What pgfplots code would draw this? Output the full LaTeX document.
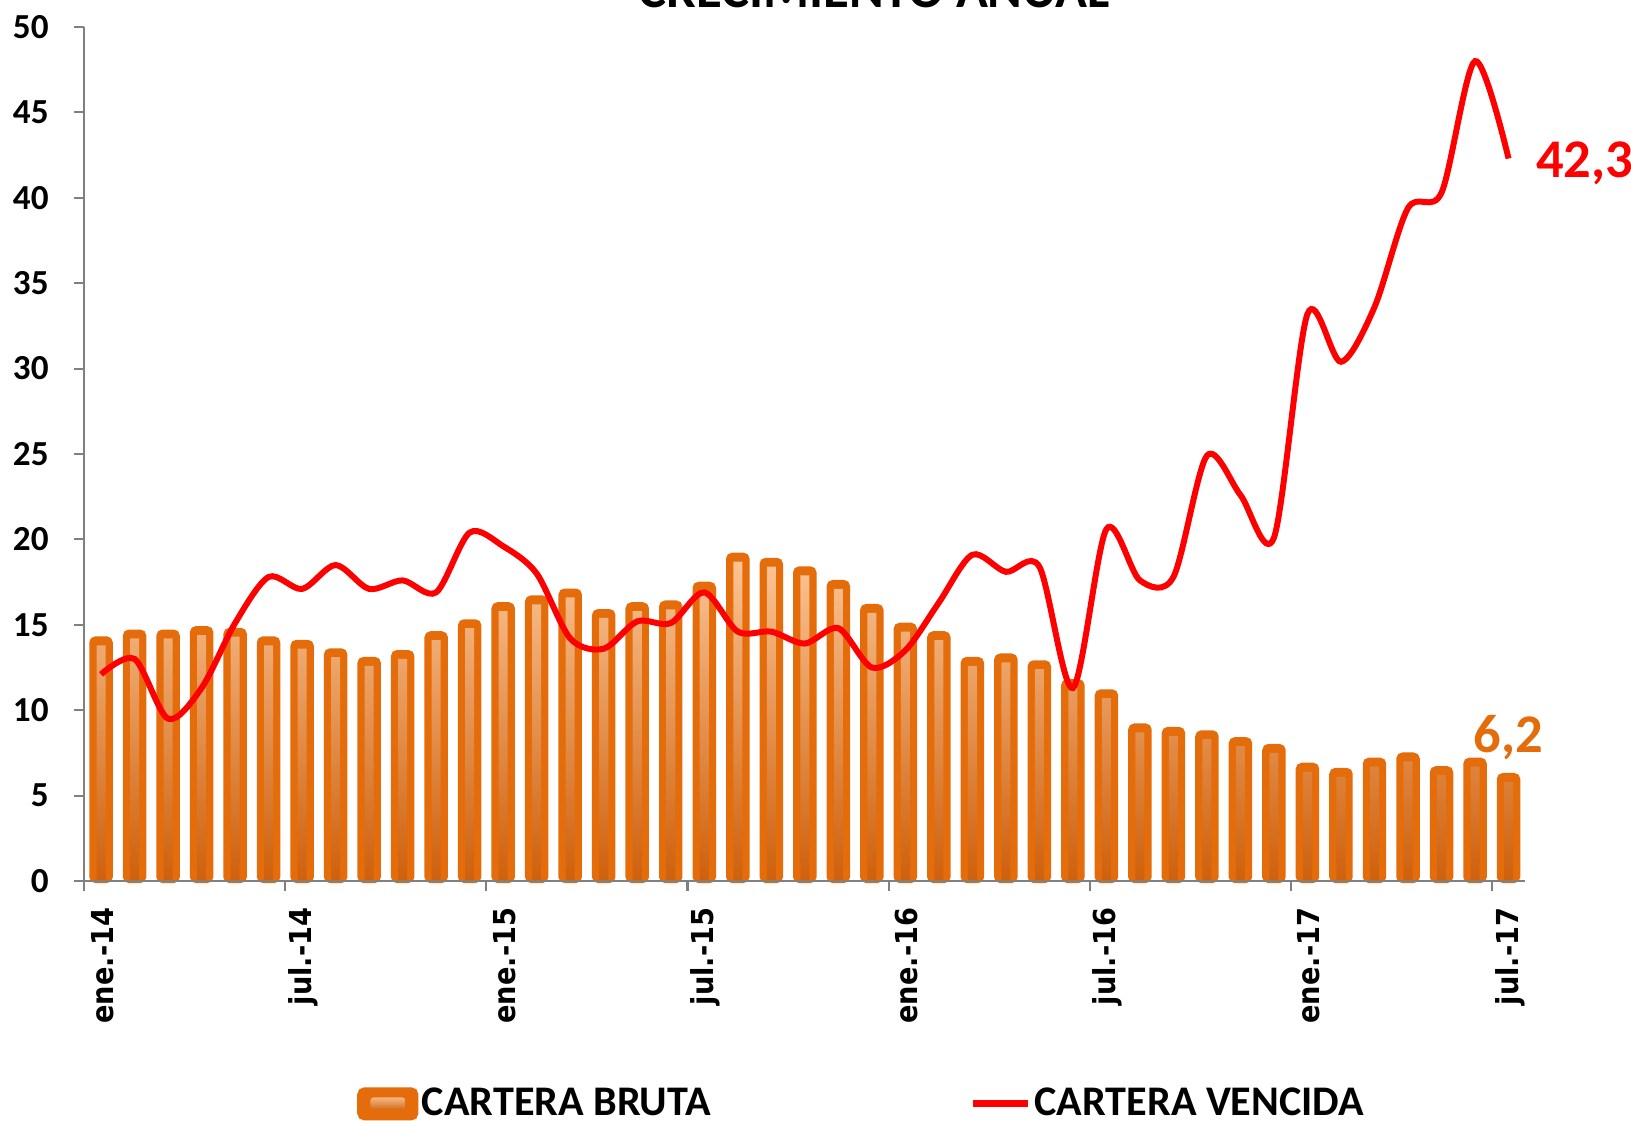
\documentclass[border=0pt]{standalone}
\usepackage{fontspec}
\usepackage{pgfplots}
\usepackage{pgfplotstable}
\pgfplotsset{compat=1.18}
\setmainfont{Carlito}
\newfontfamily\xlabfont[FakeStretch=0.9]{DejaVu Sans}
\definecolor{barorange}{RGB}{228,108,10}
\definecolor{stripetop}{RGB}{251,196,148}
\definecolor{stripebot}{RGB}{206,96,12}
\definecolor{axisgray}{RGB}{128,128,128}

% i = month index (0 = ene-14), b = cartera bruta, v = cartera vencida
\pgfplotstableread{
i  b     v
0  14.2  12.1
1  14.6  13.0
2  14.6  9.5
3  14.8  11.3
4  14.7  15.1
5  14.2  17.8
6  14.0  17.1
7  13.5  18.5
8  13.0  17.1
9  13.4  17.6
10 14.5  16.9
11 15.2  20.4
12 16.2  19.6
13 16.6  18.0
14 17.0  14.2
15 15.8  13.6
16 16.2  15.2
17 16.3  15.1
18 17.4  16.9
19 19.1  14.6
20 18.8  14.6
21 18.3  13.9
22 17.5  14.8
23 16.1  12.5
24 15.0  13.5
25 14.5  16.3
26 13.0  19.1
27 13.2  18.1
28 12.8  18.4
29 11.7  11.3
30 11.1  20.6
31 9.1   17.6
32 8.9   17.8
33 8.7   24.9
34 8.3   22.6
35 7.9   20.1
36 6.8   33.2
37 6.5   30.4
38 7.1   33.6
39 7.4   39.4
40 6.6   40.3
41 7.1   48.0
42 6.2   42.3
}\datatable

\begin{document}
\begin{tikzpicture}
\begin{axis}[
  at={(0,0)}, anchor=south west,
  width=14.41cm, height=8.54cm, scale only axis,
  xmin=-0.5, xmax=42.5, ymin=0, ymax=50,
  axis lines=left,
  axis line style={-, draw=axisgray, line width=0.6pt},
  axis on top,
  clip=false,
  ytick={0,5,...,50},
  xtick={-0.5,5.5,11.5,17.5,23.5,29.5,35.5,41.5},
  xticklabels={ene.-14,jul.-14,ene.-15,jul.-15,ene.-16,jul.-16,ene.-17,jul.-17},
  tick align=outside,
  major tick length=0.1cm,
  tick style={draw=axisgray, line width=0.6pt},
  /pgf/number format/assume math mode=true,
  yticklabel style={font=\fontsize{10}{12}\selectfont\bfseries, inner sep=0pt, anchor=east, xshift=-0.25cm},
  xticklabel style={font=\xlabfont\bfseries\fontsize{8.6}{10}\selectfont, inner sep=0pt,
    xshift=0.18cm, yshift=-0.16cm, rotate=90, anchor=east},
  legend columns=2,
  legend style={at={(0.54,-0.261)}, anchor=center, draw=none, fill=none, inner sep=0pt,
    font=\fontsize{12}{14}\selectfont\bfseries,
    nodes={inner sep=1pt},
    /tikz/every even column/.append style={column sep=2.55cm}},
]
\addplot[ybar, bar width=0.575, bar shift=0pt, fill=barorange, draw=barorange, line width=1.2pt,
  rounded corners=1.2pt,
  legend image code/.code={
    \fill[barorange, rounded corners=1.5pt] (0cm,-0.145cm) rectangle (0.57cm,0.145cm);
    \fill[top color=stripetop, bottom color=stripebot] (0.09cm,-0.075cm) rectangle (0.48cm,0.085cm);
  }] table[x=i, y=b] {\datatable};
\addlegendentry{CARTERA BRUTA}
\addplot[ybar, bar width=0.27, bar shift=0pt, draw=none, top color=stripetop, bottom color=stripebot,
  forget plot] table[x=i, y expr=\thisrow{b}-0.4] {\datatable};
\addplot[red, line width=1.7pt, smooth, tension=0.5, no markers,
  legend image code/.code={\draw[red, line width=2pt] (0cm,0cm) -- (0.55cm,0cm);}]
  table[x=i, y=v] {\datatable};
\addlegendentry{CARTERA VENCIDA}
\node[anchor=west, text=red, font=\fontsize{15.5}{18}\selectfont\bfseries, inner sep=0pt, xshift=0.27cm]
  at (axis cs:42,42.0) {42,3};
\node[anchor=base, text=barorange, font=\fontsize{15.5}{18}\selectfont\bfseries, inner sep=0pt]
  at (axis cs:42,7.55) {6,2};
\end{axis}
\node[anchor=base, font=\fontsize{15}{18}\selectfont\bfseries, inner sep=0pt] at (7.9cm,8.73cm) {CRECIMIENTO ANUAL};
\pgfresetboundingbox
\path (-0.843cm,-2.40cm) rectangle (15.467cm,8.81cm);
\end{tikzpicture}
\end{document}
